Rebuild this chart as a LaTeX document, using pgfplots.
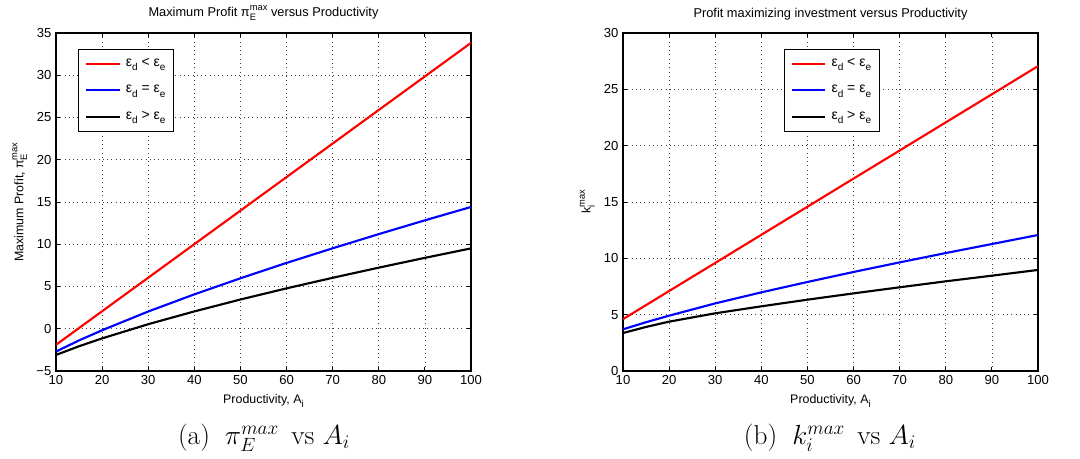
\documentclass[border=0pt]{standalone}
\usepackage[no-math]{fontspec}
\usepackage{pgfplots}
\pgfplotsset{compat=1.18}
\newfontfamily\helv{Liberation Sans}
\newcommand{\sps}[2]{\rlap{\raisebox{-0.6ex}{\fontsize{7}{7}\selectfont #1}}\raisebox{0.9ex}{\fontsize{7}{7}\selectfont #2}}
\newcommand{\sub}[1]{\raisebox{-0.6ex}{\fontsize{7.5}{7.5}\selectfont #1}}
\pgfplotsset{
  mstyle/.style={
    scale only axis, width=311.25pt, height=253.5pt,
    xmin=10, xmax=100, xtick={10,20,...,100},
    grid=major,
    major grid style={black!75, line width=0.5pt, dash pattern=on 0.6pt off 2.6pt},
    axis line style={line width=0.9pt},
    tick align=inside, major tick length=3pt,
    tick style={black, line width=0.6pt},
    /pgf/number format/assume math mode=true,
    tick label style={font=\helv\fontsize{9.8}{10}\selectfont},
    label style={font=\helv\fontsize{9.3}{10}\selectfont},
    title style={font=\helv\fontsize{9.6}{10}\selectfont, yshift=0pt},
    legend cell align=left,
    legend style={draw=black, line width=0.7pt, fill=white,
      font=\helv\fontsize{10.5}{11}\selectfont,
      inner xsep=5pt, inner ysep=6pt, row sep=10pt, column sep=3pt,
      nodes={inner sep=1pt, text depth=2pt}},
    legend image code/.code={\draw[#1, line width=1.6pt] (0pt,0pt) -- (25pt,0pt);},
    every axis plot/.append style={line width=1.6pt},
  }
}
\begin{document}
\begin{tikzpicture}[x=0.75pt,y=0.75pt]
\useasboundingbox (0,0) rectangle (1080,459);
\begin{axis}[mstyle, at={(42pt,66pt)}, anchor=south west,
  ymin=-5, ymax=35, ytick={-5,0,...,35},
  yticklabels={−5,0,5,10,15,20,25,30,35},
  title={Maximum Profit π\sps{E}{max} versus Productivity},
  xlabel={Productivity, A\sub{i}},
  ylabel={Maximum Profit, π\sps{E}{max}},
  legend style={at={(0.053,0.954)}, anchor=north west}]
\addplot[red] coordinates {(10,-1.90)(20,2.07)(30,6.04)(40,10.01)(50,13.98)(60,17.95)(70,21.92)(80,25.89)(90,29.86)(100,33.83)};
\addlegendentry{ε\sub{d} < ε\sub{e}}
\addplot[blue] coordinates {(10,-2.70)(15,-1.38)(20,-0.18)(30,2.04)(40,4.07)(50,5.97)(60,7.79)(70,9.52)(80,11.20)(90,12.83)(100,14.41)};
\addlegendentry{ε\sub{d} = ε\sub{e}}
\addplot[black] coordinates {(10,-3.10)(15,-2.07)(20,-1.14)(30,0.54)(40,2.05)(50,3.46)(60,4.78)(70,6.03)(80,7.23)(90,8.39)(100,9.51)};
\addlegendentry{ε\sub{d} > ε\sub{e}}
\end{axis}
\begin{axis}[mstyle, at={(467.25pt,66pt)}, anchor=south west,
  ymin=0, ymax=30, ytick={0,5,...,30},
  title={Profit maximizing investment versus Productivity},
  xlabel={Productivity, A\sub{i}},
  ylabel={k\sps{i}{max}},
  legend style={at={(0.387,0.954)}, anchor=north west}]
\addplot[red] coordinates {(10,4.60)(20,7.10)(30,9.59)(40,12.09)(50,14.58)(60,17.08)(70,19.57)(80,22.07)(90,24.56)(100,27.06)};
\addlegendentry{ε\sub{d} < ε\sub{e}}
\addplot[blue] coordinates {(10,3.70)(15,4.33)(20,4.91)(30,6.00)(40,6.98)(50,7.90)(60,8.79)(70,9.64)(80,10.47)(90,11.27)(100,12.07)};
\addlegendentry{ε\sub{d} = ε\sub{e}}
\addplot[black] coordinates {(10,3.37)(15,3.91)(20,4.38)(30,5.12)(40,5.74)(50,6.33)(60,6.89)(70,7.43)(80,7.96)(90,8.46)(100,8.97)};
\addlegendentry{ε\sub{d} > ε\sub{e}}
\end{axis}
\node[font=\fontsize{20.5}{23}\selectfont] at (264,21) {(a)\hspace{0.55em}$\pi_E^{max}$\hspace{0.45em}vs $A_i$};
\node[font=\fontsize{20.5}{23}\selectfont] at (830,21) {(b)\hspace{0.55em}$k_i^{max}$\hspace{0.45em}vs $A_i$};
\end{tikzpicture}
\end{document}
